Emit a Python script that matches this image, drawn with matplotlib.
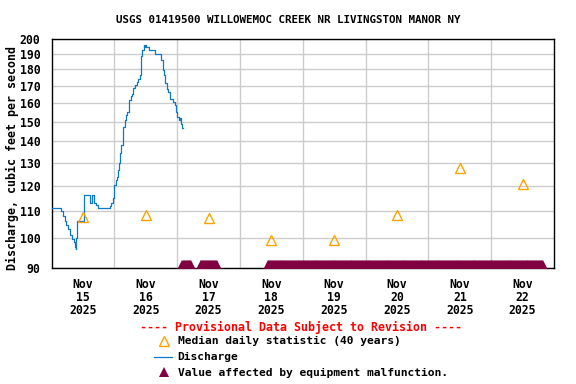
import matplotlib
matplotlib.use("Agg")
import matplotlib.pyplot as plt
import matplotlib.ticker as mticker
from matplotlib.lines import Line2D
import numpy as np
import pandas as pd

start = pd.Timestamp("2025-11-15")

# discharge (15-min gage), hours after Nov 15 00:00 -> cfs, drawn as steps
q_hours = [0, 3.7, 4.3, 5.0, 5.6, 6.2, 7.2, 7.9, 8.5, 9.1, 9.25, 9.4, 9.9, 12.5,
           14.9, 15.4, 16.4, 17.0, 17.6, 22.2, 22.7, 23.4, 23.7, 24.0, 24.5, 24.9,
           25.3, 25.6, 26.0, 26.5, 27.2, 27.5, 28.2, 28.6, 29.0, 29.5, 29.8, 30.2,
           30.6, 31.1, 32.0, 32.5, 33.1, 33.9, 34.3, 34.7, 35.2, 35.5, 35.8, 36.2,
           37.1, 39.6, 41.8, 42.5, 43.0, 43.4, 44.1, 44.7, 45.3, 46.4, 47.1, 47.6,
           48.1, 48.6, 49.1, 49.4, 49.8, 50.2]
q_cfs = [111, 110, 108, 106, 104.6, 103, 101, 99.5, 98.4, 97, 96.1, 100, 106, 116,
         112.8, 116, 113, 112, 111, 111.8, 112.8, 114.8, 117.5, 120.3, 122.3, 123.7,
         126.7, 130, 134.3, 138.2, 142.3, 147.3, 150.8, 153.4, 155.2, 160.2, 162, 164,
         165, 169, 170.8, 172.3, 174.4, 176.4, 189, 192.4, 195.8, 194.5, 195.8, 195,
         192.9, 189.8, 185.9, 179.5, 176.4, 171.8, 168.4, 166.4, 162.6, 160.7, 158.9, 155.2,
         152.5, 150.8, 152, 149, 146.5, 146.5]

# median daily statistic (40 years), plotted at noon
median_cfs = [107.4, 108.2, 107.3, 99.1, 99.1, 108.2, 127.4, 120.5]

# equipment malfunction periods (hours after Nov 15 00:00)
flag_periods = [(50.0, 53.25), (57.0, 63.25), (82.75, 187.75)]

day_labels = ["Nov\n15\n2025", "Nov\n16\n2025", "Nov\n17\n2025", "Nov\n18\n2025",
              "Nov\n19\n2025", "Nov\n20\n2025", "Nov\n21\n2025", "Nov\n22\n2025"]
y_ticks = [90, 100, 110, 120, 130, 140, 150, 160, 170, 180, 190, 200]

font = "DejaVu Sans Mono"
plt.rcParams['font.family'] = font
plt.rcParams['font.weight'] = 'bold'

fig = plt.figure(figsize=(5.76, 3.84), dpi=100)
W, H = 576, 384
ax = fig.add_axes([51.5 / W, 1 - 268 / H, (554 - 51.5) / W, (268 - 39.3) / H])

q_time = start + pd.to_timedelta(q_hours, unit="h")
ax.step(q_time, q_cfs, where="post", color="#0a78cc", lw=0.9, zorder=3)

med_time = start + pd.to_timedelta(np.arange(len(median_cfs)) * 24 + 12, unit="h")
ax.plot(med_time, median_cfs, ls="none", marker="^", ms=7, mfc="none",
        mec="#ffa200", mew=1.0, zorder=4)

for a, b in flag_periods:
    hrs = np.arange(a, b + 0.01, 0.25)
    ax.plot(start + pd.to_timedelta(hrs, unit="h"), np.full(len(hrs), 90.0),
            ls="none", marker="^", ms=11.5, color="#800040", mew=0, zorder=5,
            clip_on=True)

ax.set_yscale("log")
ax.set_ylim(90, 200)
ax.yaxis.set_major_locator(mticker.FixedLocator(y_ticks))
ax.yaxis.set_major_formatter(mticker.FixedFormatter([str(v) for v in y_ticks]))
ax.yaxis.set_minor_locator(mticker.NullLocator())

ax.set_xlim(start, start + pd.Timedelta(days=8))
ax.set_xticks(start + pd.to_timedelta(np.arange(8) * 24 + 12, unit="h"))
ax.set_xticklabels(day_labels, linespacing=1.0)
ax.set_xticks(start + pd.to_timedelta(np.arange(1, 8) * 24, unit="h"), minor=True)

ax.tick_params(axis="both", which="both", length=0, labelsize=8.3)
ax.tick_params(axis="y", pad=8)
ax.tick_params(axis="x", pad=7)
ax.grid(True, axis="y", which="major", color="#cccccc", lw=1.0)
ax.grid(True, axis="x", which="minor", color="#cccccc", lw=1.0)
ax.set_axisbelow(True)
for s in ax.spines.values():
    s.set_linewidth(1.0)
    s.set_color("black")

fig.text(288 / W, 1 - 20 / H, "USGS 01419500 WILLOWEMOC CREEK NR LIVINGSTON MANOR NY",
         ha="center", va="center", fontsize=7.8, fontweight="bold")
fig.text(12 / W, 1 - 158 / H, "Discharge, cubic feet per second", rotation=90,
         ha="center", va="center", fontsize=8.4, fontweight="bold")

fig.text(301 / W, 1 - 327 / H, "---- Provisional Data Subject to Revision ----",
         ha="center", va="center", fontsize=8.4, fontweight="bold", color="red")
legend_rows = [(341, "Median daily statistic (40 years)"),
               (357, "Discharge"),
               (372.5, "Value affected by equipment malfunction.")]
for yy, txt in legend_rows:
    fig.text(177.5 / W, 1 - yy / H, txt, ha="left", va="center", fontsize=8.1,
             fontweight="bold")
fig.add_artist(Line2D([163.8 / W], [1 - 341 / H], transform=fig.transFigure, ls="none",
                      marker="^", ms=7, mfc="none", mec="#ffa200", mew=1.0))
fig.add_artist(Line2D([154.3 / W, 171.7 / W], [1 - 357 / H, 1 - 357 / H],
                      transform=fig.transFigure, color="#0a78cc", lw=0.9))
fig.add_artist(Line2D([163.8 / W], [1 - 371.5 / H], transform=fig.transFigure, ls="none",
                      marker="^", ms=7.5, color="#800040", mew=0))

fig.savefig("out.png", dpi=100)
